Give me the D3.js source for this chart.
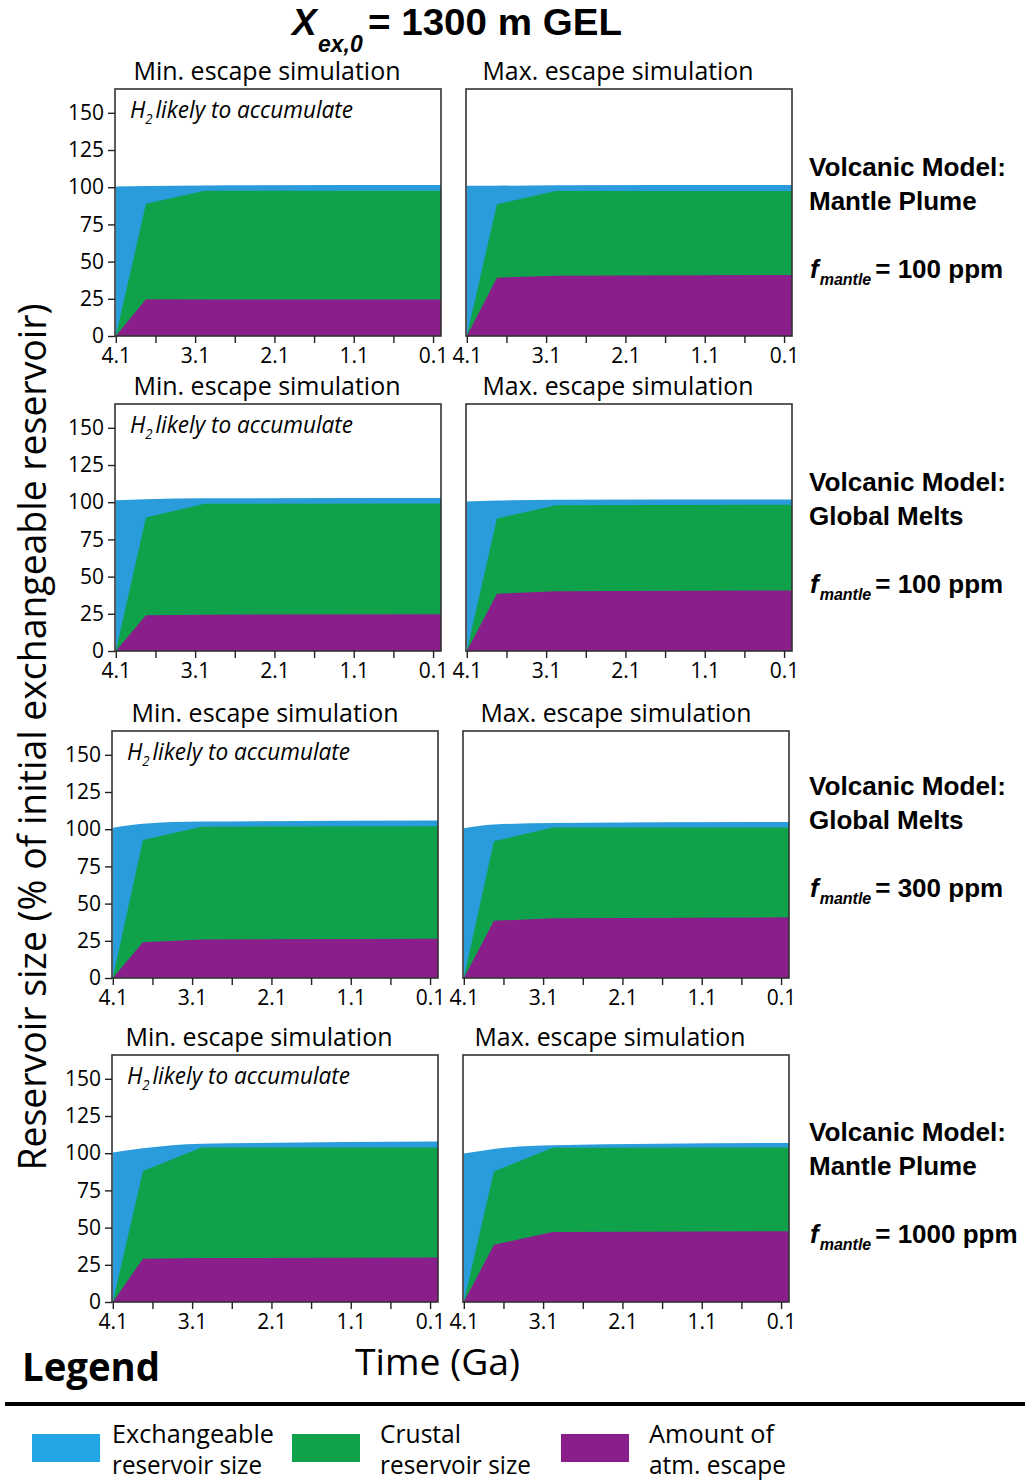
<!DOCTYPE html>
<html><head><meta charset="utf-8">
<script src="https://cdn.jsdelivr.net/npm/d3@7"></script>
<style>
body{margin:0;background:#fff}
svg{display:block}
text{font-family:"Open Sans",sans-serif;fill:#000}
.bold{font-family:"Liberation Sans",Arial,sans-serif;font-weight:bold}
</style>
</head><body>
<svg id="c" width="1025" height="1481"></svg>
<script>
// ---------- DATA ----------
const times = [4.1, 3.72, 2.98, 0.0];
// panel order: row1 min, row1 max, row2 min, row2 max, row3 min, row3 max, row4 min, row4 max
const exchangeable = [
  [100.4, 100.8, 101.2, 101.5],
  [100.9, 101.0, 101.3, 101.5],
  [101.3, 102.0, 102.6, 102.8],
  [100.4, 101.2, 101.7, 101.9],
  [101.0, 103.7, 105.1, 105.8],
  [100.6, 103.1, 104.2, 104.9],
  [100.4, 103.3, 106.4, 107.8],
  [99.8, 102.9, 105.4, 106.9]
];
const crustal = [
  [0, 88.8, 97.7, 97.7],
  [0, 88.6, 97.5, 97.5],
  [0, 89.7, 99.0, 99.2],
  [0, 89.0, 97.9, 98.3],
  [0, 92.8, 101.7, 102.0],
  [0, 91.9, 101.1, 101.1],
  [0, 88.1, 103.8, 103.8],
  [0, 87.7, 103.7, 103.9]
];
const escape = [
  [0, 24.7, 24.5, 24.5],
  [0, 39.2, 40.5, 41.0],
  [0, 24.1, 24.4, 24.7],
  [0, 38.4, 40.2, 40.7],
  [0, 24.1, 25.9, 26.3],
  [0, 38.5, 40.1, 40.8],
  [0, 29.1, 29.5, 29.9],
  [0, 38.5, 47.1, 47.6]
];
const panelTitles = ["Min. escape simulation", "Max. escape simulation"];
const xTicks = [4.1, 3.6, 3.1, 2.6, 2.1, 1.6, 1.1, 0.6, 0.1];
const xTickLabels = ["4.1", "", "3.1", "", "2.1", "", "1.1", "", "0.1"];
const yTicks = [0, 25, 50, 75, 100, 125, 150];
const yTickLabels = ["0", "25", "50", "75", "100", "125", "150"];
const volcanicModels = ["Mantle Plume", "Global Melts", "Global Melts", "Mantle Plume"];
const fMantle = ["100 ppm", "100 ppm", "300 ppm", "1000 ppm"];
const legendLabels = [["Exchangeable", "reservoir size"], ["Crustal", "reservoir size"], ["Amount of", "atm. escape"]];
const noteText = "likely to accumulate";

// ---------- STYLE / LAYOUT ----------
const colors = {blue: "#2a9cdc", green: "#10a24b", purple: "#8a1f8b"};
const legendColors = ["#22a5e5", "#10a24b", "#8a1f8b"];
const W = 326, H = 247, colGap = 351;
const rowTop = [89, 404, 731, 1055];
const rowLeft = [115, 115, 112, 112];
const titleShift = [-11, -11, -10, -16];
const rightText = [166, 481, 785, 1131];

const svg = d3.select("#c");

const x = d3.scaleLinear().domain([4.11, 0]).range([0, W]);
const y = d3.scaleLinear().domain([0, 166]).range([H, 0]);

for (let r = 0; r < 4; r++) {
  for (let c = 0; c < 2; c++) {
    const idx = r * 2 + c;
    const g = svg.append("g").attr("transform", `translate(${rowLeft[r] + c * colGap},${rowTop[r]})`);
    const rows = times.map((t, i) => ({t, b: exchangeable[idx][i], g: crustal[idx][i], p: escape[idx][i]}));

    g.append("path").datum(rows).attr("fill", colors.blue)
      .attr("d", d3.area().x(d => x(d.t)).y0(y(0)).y1(d => y(d.b)).curve(d3.curveMonotoneX));
    g.append("path").datum(rows).attr("fill", colors.green)
      .attr("d", d3.area().x(d => x(d.t)).y0(y(0)).y1(d => y(d.g)));
    g.append("path").datum(rows).attr("fill", colors.purple)
      .attr("d", d3.area().x(d => x(d.t)).y0(y(0)).y1(d => y(d.p)));

    g.append("rect").attr("x", 0).attr("y", 0).attr("width", W).attr("height", H)
      .attr("fill", "none").attr("stroke", "#333").attr("stroke-width", 1.6);

    const xa = g.append("g").attr("transform", `translate(0,${H})`)
      .call(d3.axisBottom(x).tickValues(xTicks).tickSize(7).tickPadding(5)
        .tickFormat((d, i) => xTickLabels[i]));
    xa.select(".domain").remove();
    xa.selectAll("line").attr("stroke", "#222").attr("stroke-width", 1.4);
    xa.selectAll("text").attr("font-size", 21).attr("font-family", "Open Sans");

    if (c === 0) {
      const ya = g.append("g")
        .call(d3.axisLeft(y).tickValues(yTicks).tickSize(7).tickPadding(4)
          .tickFormat((d, i) => yTickLabels[i]));
      ya.select(".domain").remove();
      ya.selectAll("line").attr("stroke", "#222").attr("stroke-width", 1.4);
      ya.selectAll("text").attr("font-size", 21).attr("font-family", "Open Sans");

      const note = g.append("text").attr("x", 15).attr("y", 29)
        .attr("font-size", 24).attr("font-style", "italic")
        .attr("textLength", 223).attr("lengthAdjust", "spacingAndGlyphs");
      note.append("tspan").text("H");
      note.append("tspan").attr("font-size", 14).attr("dy", 6).text("2");
      note.append("tspan").attr("dy", -6).attr("dx", 3).text(noteText);
    }

    g.append("text").attr("x", W / 2 + titleShift[r]).attr("y", -9)
      .attr("text-anchor", "middle").attr("font-size", 25)
      .attr("textLength", c === 0 ? 267 : 271).attr("lengthAdjust", "spacingAndGlyphs")
      .text(panelTitles[c]);
  }

  // right-hand annotations
  const ty = rightText[r];
  svg.append("text").attr("class", "bold").attr("x", 809).attr("y", ty + 10)
    .attr("font-size", 26).attr("textLength", 197).attr("lengthAdjust", "spacingAndGlyphs")
    .text("Volcanic Model:");
  svg.append("text").attr("class", "bold").attr("x", 809).attr("y", ty + 44)
    .attr("font-size", 26).text(volcanicModels[r]);
  const ft = svg.append("text").attr("class", "bold").attr("x", 810).attr("y", ty + 112).attr("font-size", 26);
  ft.append("tspan").attr("font-style", "italic").text("f");
  ft.append("tspan").attr("font-style", "italic").attr("font-size", 16).attr("dy", 7).attr("dx", 1).text("mantle");
  ft.append("tspan").attr("dy", -7).attr("dx", 4).text("= " + fMantle[r]);
}

// main title
svg.append("text").attr("class", "bold").attr("x", 292).attr("y", 35)
  .attr("font-size", 37).attr("font-style", "italic").text("X");
svg.append("text").attr("class", "bold").attr("x", 318).attr("y", 52)
  .attr("font-size", 23).attr("font-style", "italic").text("ex,0");
svg.append("text").attr("class", "bold").attr("x", 368).attr("y", 35)
  .attr("font-size", 37).attr("textLength", 254).attr("lengthAdjust", "spacingAndGlyphs")
  .text("= 1300 m GEL");

// y-axis label
svg.append("text").attr("transform", "translate(46,737) rotate(-90)")
  .attr("text-anchor", "middle").attr("font-size", 38)
  .attr("textLength", 867).attr("lengthAdjust", "spacingAndGlyphs")
  .text("Reservoir size (% of initial exchangeable reservoir)");

// x-axis label
svg.append("text").attr("x", 355).attr("y", 1375).attr("font-size", 36)
  .attr("textLength", 165).attr("lengthAdjust", "spacingAndGlyphs").text("Time (Ga)");

// Legend
svg.append("text").attr("x", 22).attr("y", 1381).attr("font-size", 40).attr("font-weight", "bold")
  .attr("textLength", 138).attr("lengthAdjust", "spacingAndGlyphs").text("Legend");
svg.append("line").attr("x1", 5).attr("x2", 1025).attr("y1", 1404).attr("y2", 1404)
  .attr("stroke", "#000").attr("stroke-width", 4);

const legX = [32, 292, 561];
const legTextX = [112, 380, 649];
const legW = [[162, 150], [81, 151], [125, 137]];
legendLabels.forEach((lab, i) => {
  svg.append("rect").attr("x", legX[i]).attr("y", 1434).attr("width", 68).attr("height", 28)
    .attr("fill", legendColors[i]);
  lab.forEach((t, j) => {
    svg.append("text").attr("x", legTextX[i]).attr("y", 1443 + j * 31).attr("font-size", 26)
      .attr("textLength", legW[i][j]).attr("lengthAdjust", "spacingAndGlyphs").text(t);
  });
});
</script>
</body></html>
